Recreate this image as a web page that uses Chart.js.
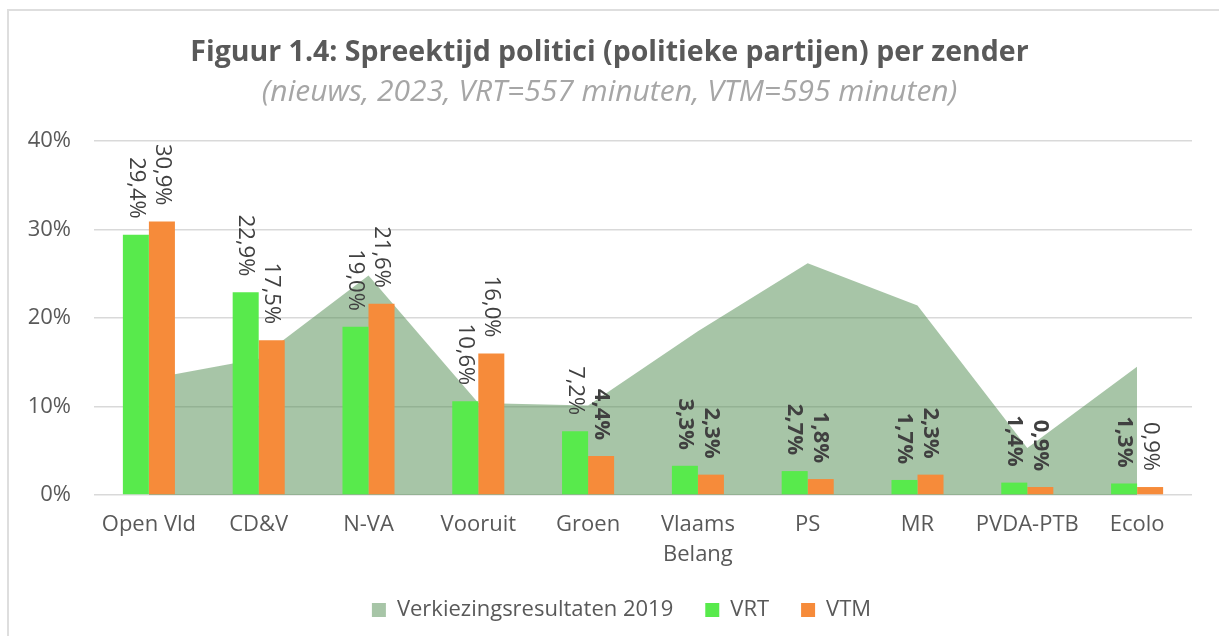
<!DOCTYPE html>
<html>
<head>
<meta charset="utf-8">
<script src="https://cdn.jsdelivr.net/npm/chart.js@4/dist/chart.umd.min.js"></script>
<style>
  html, body { margin: 0; padding: 0; background: #fff; overflow: hidden; }
  #frame { position: absolute; left: 7px; top: 9px; width: 1300px; height: 700px; border: 2px solid #dedede; }
  #wrap { position: absolute; left: 0; top: 0; width: 1219px; height: 631px; }
</style>
</head>
<body>
<div id="frame"></div>
<div id="wrap"><canvas id="spreektijdChart"></canvas></div>
<script>
// Spreektijd politici per zender
const categories = ['Open Vld', 'CD&V', 'N-VA', 'Vooruit', 'Groen', ['Vlaams', 'Belang'], 'PS', 'MR', 'PVDA-PTB', 'Ecolo'];
const verkiezingen2019 = [13.1, 15.4, 24.8, 10.4, 10.1, 18.5, 26.2, 21.4, 5.3, 14.5];
const vrtValues = [29.4, 22.9, 19.0, 10.6, 7.2, 3.3, 2.7, 1.7, 1.4, 1.3];
const vtmValues = [30.9, 17.5, 21.6, 16.0, 4.4, 2.3, 1.8, 2.3, 0.9, 0.9];
const yTickValues = [0, 10, 20, 30, 40];

// which value labels are bold in the original
const vrtBold = [5, 6, 7, 8, 9];
const vtmBold = [4, 5, 6, 7, 8];

Chart.defaults.font.family = "'Open Sans', sans-serif";
Chart.defaults.color = '#595959';

const fmt = v => v.toFixed(1).replace('.', ',') + '%';

// vertical value labels above the bars
const rotatedLabels = {
    id: 'rotatedLabels',
    afterLayout(chart) {
        // legend sits a bit right of centre in the original
        chart.legend.left += 12;
        chart.legend.right += 12;
    },
    afterDatasetsDraw(chart) {
        const ctx = chart.ctx;
        chart.data.datasets.forEach((ds, di) => {
            if (ds.type !== 'bar') return;
            const meta = chart.getDatasetMeta(di);
            const bold = di === 1 ? vrtBold : vtmBold;
            meta.data.forEach((bar, i) => {
                ctx.save();
                ctx.translate(bar.x, bar.y - 16);
                ctx.rotate(Math.PI / 2);
                ctx.font = (bold.includes(i) ? 'bold ' : '') + "22px 'Open Sans'";
                ctx.fillStyle = '#404040';
                ctx.textAlign = 'right';
                ctx.textBaseline = 'middle';
                ctx.fillText(fmt(ds.data[i]), 0, 0);
                ctx.restore();
            });
        });
    }
};

const ctx = document.getElementById('spreektijdChart').getContext('2d');
new Chart(ctx, {
    type: 'bar',
    data: {
        labels: categories,
        datasets: [
            {
                type: 'line',
                label: 'Verkiezingsresultaten 2019',
                data: verkiezingen2019,
                backgroundColor: 'rgba(80,140,80,0.5)',
                borderWidth: 0,
                pointRadius: 0,
                fill: 'origin',
                tension: 0,
                order: 2
            },
            {
                type: 'bar',
                label: 'VRT',
                data: vrtValues,
                backgroundColor: '#58EA4C',
                borderWidth: 0,
                order: 1
            },
            {
                type: 'bar',
                label: 'VTM',
                data: vtmValues,
                backgroundColor: '#F68B3A',
                borderWidth: 0,
                order: 1
            }
        ]
    },
    options: {
        responsive: true,
        maintainAspectRatio: false,
        animation: false,
        categoryPercentage: 0.474,
        barPercentage: 1.0,
        layout: { padding: { left: 27, right: 27, top: 0, bottom: 0 } },
        plugins: {
            title: {
                display: true,
                text: 'Figuur 1.4: Spreektijd politici (politieke partijen) per zender',
                color: '#595959',
                font: { size: 28.5, weight: 'bold' },
                padding: { top: 36, bottom: 4 }
            },
            subtitle: {
                display: true,
                text: '(nieuws, 2023, VRT=557 minuten, VTM=595 minuten)',
                color: '#a6a6a6',
                font: { size: 30, style: 'italic' },
                padding: { top: 0, bottom: 30.8 }
            },
            legend: {
                position: 'bottom',
                labels: {
                    boxWidth: 14,
                    boxHeight: 14,
                    padding: 32,
                    color: '#595959',
                    font: { size: 22 },
                    sort: (a, b) => a.datasetIndex - b.datasetIndex
                }
            },
            tooltip: { enabled: false }
        },
        scales: {
            x: {
                grid: { display: false },
                border: { display: false },
                ticks: { color: '#595959', font: { size: 22, lineHeight: 1.35 }, padding: 7, maxRotation: 0 },
                afterFit: scale => { scale.height = 72; }
            },
            y: {
                min: yTickValues[0],
                max: yTickValues[yTickValues.length - 1],
                grid: { color: '#d9d9d9', lineWidth: 1.5, drawTicks: false },
                border: { display: false },
                afterBuildTicks: scale => { scale.ticks = yTickValues.map(v => ({ value: v })); },
                ticks: { color: '#595959', font: { size: 22 }, padding: 23, callback: v => v + '%' },
                afterFit: scale => { scale.width = 67; }
            }
        }
    },
    plugins: [rotatedLabels]
});
</script>
</body>
</html>
